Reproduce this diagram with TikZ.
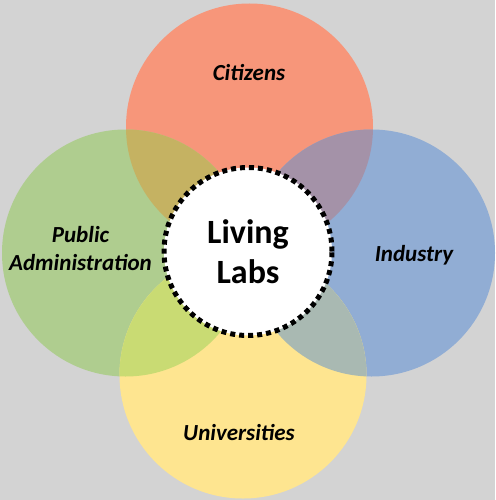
\documentclass[tikz,border=0pt]{standalone}
\usepackage{fontspec}
\setmainfont{Carlito}
\definecolor{bgc}{HTML}{D3D3D3}
\definecolor{orangec}{HTML}{F7967A}
\definecolor{greenc}{HTML}{AFCD8F}
\definecolor{bluec}{HTML}{91ADD4}
\definecolor{yellowc}{HTML}{FEE590}
\definecolor{olivec}{HTML}{C5B262}
\definecolor{mauvec}{HTML}{A492A8}
\definecolor{ygreenc}{HTML}{C9DB73}
\definecolor{ggreenc}{HTML}{A9B9B2}
\tikzset{
  petal/.style={circle, minimum size=247pt, inner sep=0pt, draw=none},
  lbl/.style={font=\fontsize{23}{28}\selectfont\bfseries\itshape, text=black, inner sep=0pt, align=center},
  hub/.style={circle, minimum size=168pt, inner sep=0pt, fill=white, draw=black, line width=5pt, dash pattern=on 5pt off 4pt,
    font=\fontsize{34}{41}\selectfont\bfseries, align=center}
}
\begin{document}
\begin{tikzpicture}[x=1pt,y=-1pt]
\fill[bgc] (0,0) rectangle (495,500);
\useasboundingbox (0,0) rectangle (495,500);
\node[petal, fill=orangec] (cit) at (249.5,127) {};
\node[petal, fill=greenc] (pub) at (125.5,253) {};
\node[petal, fill=bluec] (ind) at (371.5,253) {};
\node[petal, fill=yellowc] (uni) at (243,375) {};
\begin{scope}
  \clip (249.5,127) circle (123.5);
  \fill[olivec] (125.5,253) circle (123.5);
  \fill[mauvec] (371.5,253) circle (123.5);
\end{scope}
\begin{scope}
  \clip (243,375) circle (123.5);
  \fill[ygreenc] (125.5,253) circle (123.5);
  \fill[ggreenc] (371.5,253) circle (123.5);
\end{scope}
\node[hub] (hub) at (248,251.5) {Living\\[-1pt]Labs};
\node[lbl, anchor=base] (tcit) at (249,80.7) {Citizens};
\node[lbl, anchor=base] (tind) at (414,261) {Industry};
\node[lbl, anchor=base] (tuni) at (239,440) {Universities};
\node[lbl] (tpub) at (80.5,249) {Public\\Administration};
\end{tikzpicture}
\end{document}
